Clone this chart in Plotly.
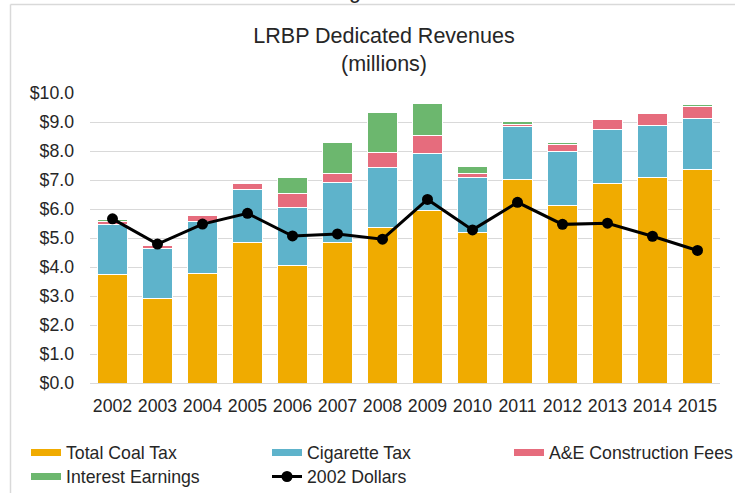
import plotly.graph_objects as go

years = ["2002", "2003", "2004", "2005", "2006", "2007", "2008",
         "2009", "2010", "2011", "2012", "2013", "2014", "2015"]
coal_tax = [3.73, 2.93, 3.77, 4.83, 4.05, 4.83, 5.37, 5.94, 5.18, 7.01, 6.12, 6.89, 7.08, 7.37]
cigarette_tax = [1.73, 1.70, 1.79, 1.83, 1.99, 2.08, 2.06, 1.98, 1.90, 1.83, 1.87, 1.84, 1.80, 1.75]
ae_fees = [0.10, 0.10, 0.23, 0.21, 0.51, 0.31, 0.52, 0.61, 0.15, 0.08, 0.24, 0.36, 0.43, 0.41]
interest = [0.08, 0.05, 0.00, 0.05, 0.52, 1.09, 1.38, 1.10, 0.23, 0.11, 0.07, 0.01, 0.00, 0.09]
dollars_2002 = [5.66, 4.79, 5.48, 5.85, 5.07, 5.14, 4.96, 6.33, 5.28, 6.23, 5.47, 5.51, 5.06, 4.57]

FONT = "Liberation Sans, Arial, sans-serif"
TXT = "#262626"
GRID = "#d9d9d9"
W, H = 735, 493
ML, MR, MT, MB = 90, 15, 93, 110
FS = 17.7

series = [
    ("Total Coal Tax", coal_tax, "#F0AB00", "legend"),
    ("Cigarette Tax", cigarette_tax, "#5EB3CB", "legend2"),
    ("A&E Construction Fees", ae_fees, "#E66C7D", "legend3"),
    ("Interest Earnings", interest, "#6CB76E", "legend4"),
]

fig = go.Figure()
for name, vals, col, lg in series:
    fig.add_trace(go.Bar(
        x=years, y=vals, name=name, marker=dict(color=col, line=dict(color="white", width=1)),
        showlegend=False, legendgroup=name))
# legend proxies (wide line swatches, like the original)
for name, vals, col, lg in series:
    fig.add_trace(go.Scatter(
        x=[years[0]], y=[None], mode="lines", name=name, legendgroup=name, legend=lg,
        line=dict(color=col, width=7), showlegend=True))

fig.add_trace(go.Scatter(
    x=years, y=dollars_2002, name="2002 Dollars", mode="lines+markers", legend="legend5",
    line=dict(color="black", width=3), marker=dict(color="black", size=11)))

pw = W - ML - MR
ph = H - MT - MB

def px2x(px):
    return (px - ML) / pw

def py2y(py):
    return (H - MB - py) / ph

def leg(xpx, ypx):
    return dict(orientation="v", x=xpx / W, xref="container", xanchor="left",
                y=1 - ypx / H, yref="container", yanchor="middle",
                font=dict(family=FONT, size=FS, color=TXT), itemwidth=30,
                tracegroupgap=0, bgcolor="rgba(0,0,0,0)", borderwidth=0)

fig.update_layout(
    width=W, height=H,
    margin=dict(l=ML, r=MR, t=MT, b=MB, autoexpand=False),
    paper_bgcolor="white", plot_bgcolor="white",
    barmode="stack", bargap=0.35,
    font=dict(family=FONT, size=FS, color=TXT),
    title=dict(text="LRBP Dedicated Revenues<br>(millions)", x=384 / W, xanchor="center",
               y=1 - 43 / H, yanchor="top", yref="container",
               font=dict(family=FONT, size=21.5, color=TXT)),
    xaxis=dict(type="category", categoryorder="array", categoryarray=years,
               range=[-0.5, len(years) - 0.5], autorange=False,
               showgrid=False, showline=True, linecolor=GRID, linewidth=1,
               ticks="", tickfont=dict(size=FS, color=TXT), ticklabelstandoff=7),
    yaxis=dict(range=[0, 10], dtick=1, tickprefix="$", tickformat=".1f",
               showgrid=True, gridcolor=GRID, gridwidth=1, zeroline=False, showline=False,
               tickfont=dict(size=FS, color=TXT), ticklabelstandoff=15),
    legend=leg(26, 453),
    legend2=leg(267, 453),
    legend3=leg(509, 453),
    legend4=leg(26, 477),
    legend5=leg(267, 477),
    shapes=[
        dict(type="line", xref="paper", yref="paper", x0=px2x(10.5), x1=px2x(W + 5),
             y0=py2y(4.5), y1=py2y(4.5), line=dict(color=GRID, width=1.5)),
        dict(type="line", xref="paper", yref="paper", x0=px2x(10.5), x1=px2x(10.5),
             y0=py2y(4.5), y1=py2y(H + 5), line=dict(color=GRID, width=1.5)),
    ],
    annotations=[
        dict(text="g", x=px2x(355), y=py2y(5), xref="paper", yref="paper",
             xanchor="center", yanchor="bottom", showarrow=False,
             font=dict(family=FONT, size=21.5, color=TXT)),
    ],
)

fig.write_html("out.html", config={"displayModeBar": False},
               post_script="document.body.style.margin='0';document.body.style.overflow='hidden';")
